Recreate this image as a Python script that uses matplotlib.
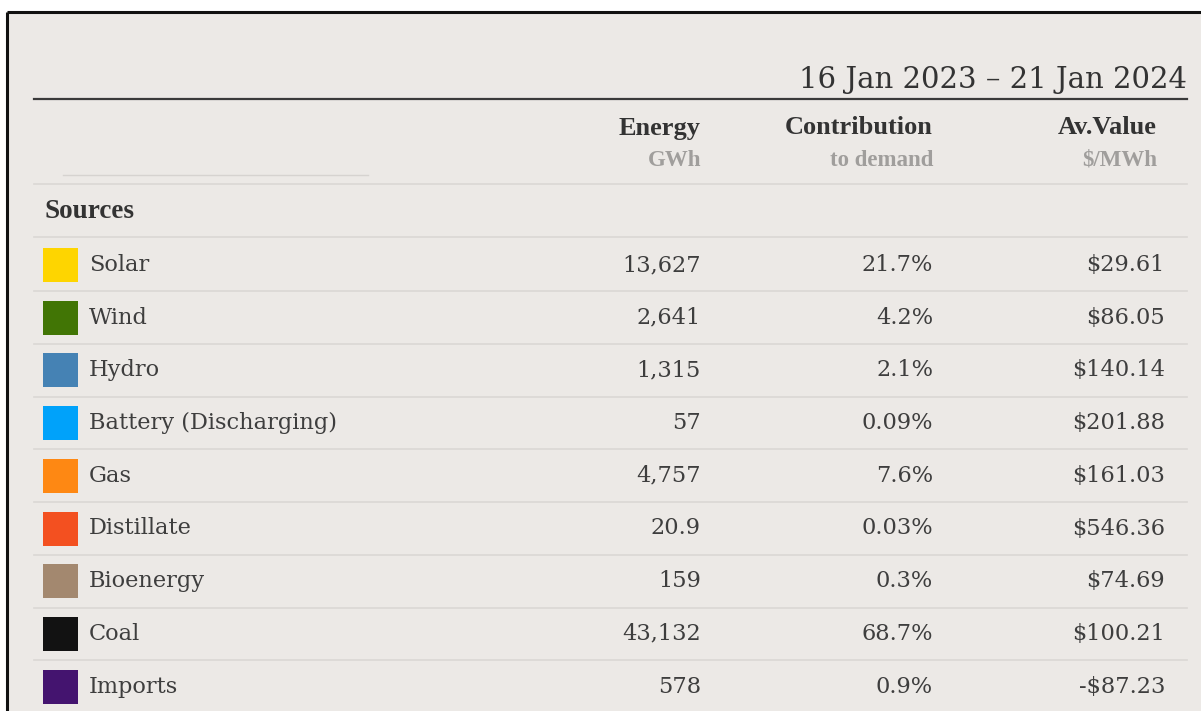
import matplotlib.pyplot as plt
from matplotlib.patches import Rectangle

# Table data
sources = ["Solar", "Wind", "Hydro", "Battery (Discharging)", "Gas",
           "Distillate", "Bioenergy", "Coal", "Imports"]
colors = ["#FED500", "#417505", "#4582B4", "#00A2FA", "#FE8813",
          "#F35020", "#A3886F", "#121212", "#44146F"]
energy_gwh = [13627, 2641, 1315, 57, 4757, 20.9, 159, 43132, 578]
contribution_pct = [21.7, 4.2, 2.1, 0.09, 7.6, 0.03, 0.3, 68.7, 0.9]
av_value = [29.61, 86.05, 140.14, 201.88, 161.03, 546.36, 74.69, 100.21, -87.23]

date_range = "16 Jan 2023 \u2013 21 Jan 2024"
headers = [("Energy", "GWh"), ("Contribution", "to demand"), ("Av.Value", "$/MWh")]

W, H = 1201, 711
bg = "#ECE9E6"
text_col = "#3E3E3E"
line_col = "#DAD7D4"
body_font = "DejaVu Serif"
head_font = "Liberation Serif"

fig = plt.figure(figsize=(W / 100, H / 100), dpi=100)
fig.patch.set_facecolor("white")
ax = fig.add_axes([0, 0, 1, 1])
ax.set_xlim(0, W)
ax.set_ylim(H, 0)
ax.axis("off")

# panel with black frame on left and top
ax.add_patch(Rectangle((7, 12), W, H, facecolor=bg, edgecolor="none"))
ax.plot([7, 7], [12, H], color="#111111", lw=2.2, solid_capstyle="butt")
ax.plot([7, W], [12, 12], color="#111111", lw=2.2, solid_capstyle="butt")

x_left, x_right = 34, 1187
col_x = [701, 933, 1165]
head_x = [701, 933, 1157]

ax.text(x_right, 88, date_range, ha="right", va="baseline", fontsize=21,
        family=body_font, color="#333333", fontweight="light")
ax.plot([x_left, x_right], [98.5, 98.5], color="#3A3A3A", lw=1.6)

for (title, unit), hx in zip(headers, head_x):
    ax.text(hx, 128, title, ha="right", va="center", fontsize=19,
            family=head_font, fontweight="bold", color="#333333")
    ax.text(hx, 160, unit, ha="right", va="center", fontsize=16.5,
            family=head_font, fontweight="bold", color="#A09E9C")

ax.plot([63, 368], [174.5, 174.5], color="#D6D3D0", lw=1.0)
ax.plot([x_left, x_right], [183.5, 183.5], color=line_col, lw=1.2)

ax.text(44, 212, "Sources", ha="left", va="center", fontsize=19.5,
        family=head_font, fontweight="bold", color="#333333")
ax.plot([x_left, x_right], [236.5, 236.5], color=line_col, lw=1.2)

row_h = 52.7
y0 = 265
for i, name in enumerate(sources):
    y = y0 + i * row_h
    ax.add_patch(Rectangle((43, y - 17), 35, 34, facecolor=colors[i],
                           edgecolor="none"))
    ax.text(89, y, name, ha="left", va="center", fontsize=16.2,
            family=body_font, color=text_col)
    e = energy_gwh[i]
    ax.text(col_x[0], y, f"{e:,}", ha="right", va="center", fontsize=16.2,
            family=body_font, color=text_col)
    ax.text(col_x[1], y, f"{contribution_pct[i]:g}%", ha="right", va="center",
            fontsize=16.2, family=body_font, color=text_col)
    v = av_value[i]
    sign = "-" if v < 0 else ""
    ax.text(col_x[2], y, f"{sign}${abs(v):.2f}", ha="right", va="center",
            fontsize=16.2, family=body_font, color=text_col)
    ly = y + row_h / 2
    ax.plot([x_left, x_right], [ly, ly], color=line_col, lw=1.2)

fig.savefig("out.png", dpi=100, facecolor=fig.get_facecolor())
